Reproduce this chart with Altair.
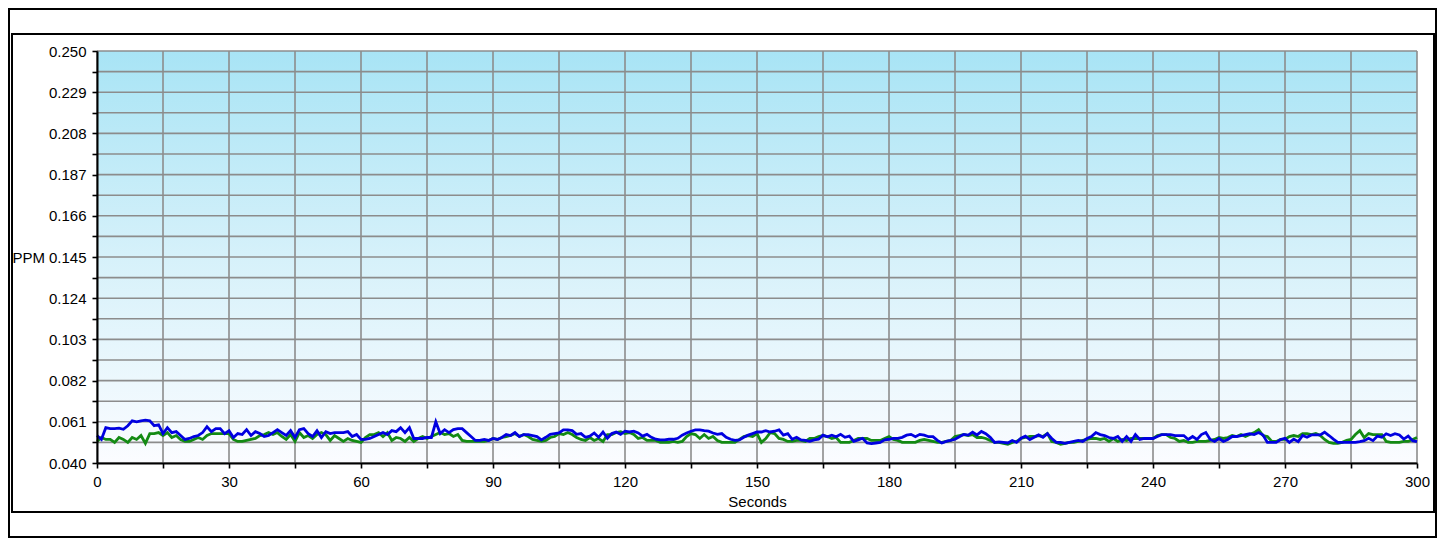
import altair as alt
import pandas as pd

seconds = list(range(301))

blue_ppm = [
    0.054, 0.052, 0.058, 0.0575, 0.0575, 0.0578, 0.0572, 0.059, 0.0615, 0.061,
    0.0615, 0.0618, 0.0615, 0.059, 0.0595, 0.055, 0.058, 0.0555, 0.056, 0.054,
    0.052, 0.0525, 0.0535, 0.054, 0.0555, 0.0585, 0.056, 0.0575, 0.0575, 0.055,
    0.0565, 0.053, 0.055, 0.0545, 0.057, 0.054, 0.056, 0.055, 0.0535, 0.054,
    0.0555, 0.057, 0.0555, 0.054, 0.0565, 0.053, 0.057, 0.0575, 0.055, 0.0535,
    0.0565, 0.053, 0.056, 0.055, 0.0555, 0.0555, 0.0555, 0.056, 0.0535, 0.0545,
    0.052, 0.052, 0.0525, 0.0535, 0.0545, 0.0555, 0.0545, 0.0565, 0.056, 0.058,
    0.0555, 0.058, 0.0525, 0.0525, 0.0525, 0.053, 0.053, 0.061, 0.055, 0.057,
    0.0555, 0.057, 0.0575, 0.0575, 0.0555, 0.0535, 0.0515, 0.0515, 0.052, 0.0515,
    0.0525, 0.052, 0.053, 0.0545, 0.054, 0.0555, 0.0535, 0.0545, 0.0545, 0.054,
    0.0535, 0.0518, 0.0531, 0.0546, 0.055, 0.0553, 0.0569, 0.0569, 0.0565, 0.0546,
    0.055, 0.0531, 0.0537, 0.0553, 0.0531, 0.0558, 0.0526, 0.055, 0.0558, 0.0546,
    0.0562, 0.0558, 0.0562, 0.0553, 0.0537, 0.0546, 0.0531, 0.0521, 0.0518, 0.0518,
    0.0521, 0.0521, 0.0526, 0.0542, 0.0553, 0.0562, 0.0569, 0.0569, 0.0565, 0.0562,
    0.0553, 0.0546, 0.055, 0.0531, 0.0521, 0.0515, 0.0518, 0.0531, 0.0542, 0.055,
    0.0558, 0.0558, 0.0565, 0.0558, 0.0562, 0.0569, 0.0542, 0.055, 0.0521, 0.0531,
    0.0518, 0.0515, 0.051, 0.0518, 0.0521, 0.0542, 0.0534, 0.0542, 0.0534, 0.0546,
    0.0531, 0.0537, 0.051, 0.0518, 0.0526, 0.0502, 0.0499, 0.0502, 0.0505, 0.0518,
    0.0521, 0.0526, 0.0526, 0.0531, 0.0542, 0.0546, 0.0534, 0.0546, 0.0542, 0.0534,
    0.0534, 0.0515, 0.0502, 0.051, 0.0515, 0.0521, 0.0534, 0.0546, 0.0542, 0.0557,
    0.0543, 0.0561, 0.0549, 0.0531, 0.0505, 0.0508, 0.0505, 0.0502, 0.0514, 0.0505,
    0.0526, 0.0537, 0.0519, 0.0531, 0.0543, 0.0531, 0.0549, 0.0525, 0.0505, 0.0505,
    0.050, 0.0505, 0.051, 0.0515, 0.051, 0.0525, 0.0535, 0.0555, 0.0545, 0.054,
    0.053, 0.0525, 0.0535, 0.051, 0.0535, 0.051, 0.0545, 0.052, 0.0525, 0.0525,
    0.0525, 0.0535, 0.0545, 0.0545, 0.0545, 0.054, 0.054, 0.054, 0.052, 0.0535,
    0.052, 0.0545, 0.0555, 0.052, 0.051, 0.0525, 0.051, 0.052, 0.0535, 0.0535,
    0.054, 0.0545, 0.0549, 0.0545, 0.0555, 0.0543, 0.0505, 0.0505, 0.0505, 0.0519,
    0.0526, 0.0505, 0.0522, 0.0509, 0.054, 0.0531, 0.0543, 0.0543, 0.0543, 0.0557,
    0.054, 0.0522, 0.0505, 0.0505, 0.0505, 0.0505, 0.0505, 0.0509, 0.0514, 0.0526,
    0.0514, 0.0537, 0.0531, 0.0549, 0.054, 0.0549, 0.0543, 0.0522, 0.0537, 0.0514,
    0.0509,
]

green_ppm = [
    0.051, 0.053, 0.052, 0.052, 0.0505, 0.053, 0.052, 0.0505, 0.053, 0.052,
    0.054, 0.050, 0.055, 0.055, 0.0555, 0.054, 0.0555, 0.053, 0.054, 0.052,
    0.051, 0.051, 0.052, 0.053, 0.052, 0.054, 0.055, 0.055, 0.055, 0.055,
    0.055, 0.052, 0.051, 0.051, 0.0515, 0.052, 0.0525, 0.054, 0.0545, 0.0555,
    0.0545, 0.0555, 0.0535, 0.052, 0.0545, 0.051, 0.0555, 0.053, 0.054, 0.0525,
    0.0545, 0.0555, 0.0545, 0.0515, 0.054, 0.0525, 0.051, 0.0525, 0.0515, 0.051,
    0.0505, 0.053, 0.0545, 0.0545, 0.0555, 0.0535, 0.0555, 0.0515, 0.053, 0.0525,
    0.051, 0.053, 0.051, 0.0525, 0.0535, 0.0525, 0.0535, 0.0545, 0.0555, 0.0545,
    0.055, 0.0535, 0.0545, 0.0515, 0.051, 0.051, 0.051, 0.051, 0.051, 0.0515,
    0.0525, 0.052, 0.053, 0.0535, 0.054, 0.055, 0.0535, 0.0545, 0.0535, 0.052,
    0.0515, 0.051, 0.0515, 0.053, 0.0535, 0.055, 0.0545, 0.0555, 0.0545, 0.053,
    0.052, 0.0515, 0.053, 0.0515, 0.0525, 0.051, 0.0545, 0.0545, 0.0555, 0.056,
    0.055, 0.0555, 0.0545, 0.0525, 0.053, 0.0515, 0.0515, 0.0515, 0.0505, 0.0505,
    0.0505, 0.051, 0.0505, 0.051, 0.0535, 0.055, 0.0545, 0.0525, 0.0545, 0.0525,
    0.0535, 0.0515, 0.0505, 0.0505, 0.0505, 0.0505, 0.052, 0.0535, 0.054, 0.0535,
    0.055, 0.0505, 0.0525, 0.0555, 0.055, 0.0525, 0.052, 0.051, 0.051, 0.0515,
    0.0515, 0.051, 0.0525, 0.0525, 0.0535, 0.054, 0.0535, 0.0525, 0.053, 0.0505,
    0.0505, 0.0505, 0.0515, 0.0525, 0.0525, 0.0525, 0.0515, 0.0515, 0.0515, 0.0525,
    0.0535, 0.052, 0.0515, 0.0505, 0.0505, 0.0505, 0.0505, 0.0515, 0.052, 0.0515,
    0.051, 0.0505, 0.0505, 0.051, 0.0515, 0.0535, 0.054, 0.0545, 0.054, 0.0545,
    0.053, 0.053, 0.0525, 0.0515, 0.0505, 0.0505, 0.050, 0.0495, 0.0505, 0.051,
    0.0525, 0.053, 0.0535, 0.0535, 0.054, 0.0535, 0.055, 0.051, 0.0505, 0.0495,
    0.050, 0.0505, 0.0505, 0.051, 0.0515, 0.052, 0.0525, 0.0525, 0.052, 0.0525,
    0.051, 0.0525, 0.051, 0.052, 0.0515, 0.0525, 0.0525, 0.0525, 0.0525, 0.0525,
    0.0525, 0.054, 0.0545, 0.0545, 0.053, 0.0525, 0.051, 0.0515, 0.0505, 0.0505,
    0.051, 0.051, 0.051, 0.0515, 0.052, 0.053, 0.0525, 0.053, 0.054, 0.0535,
    0.0545, 0.0535, 0.0545, 0.0555, 0.057, 0.054, 0.0535, 0.051, 0.051, 0.052,
    0.052, 0.0535, 0.054, 0.0535, 0.055, 0.055, 0.0545, 0.055, 0.054, 0.052,
    0.0505, 0.050, 0.050, 0.0505, 0.0515, 0.052, 0.0545, 0.0565, 0.053, 0.055,
    0.0545, 0.0545, 0.0545, 0.051, 0.0505, 0.0505, 0.0505, 0.051, 0.051, 0.052,
    0.053,
]

x_ticks = list(range(0, 301, 15))
x_labels = list(range(0, 301, 30))
y_ticks = [0.040, 0.0505, 0.061, 0.0715, 0.082, 0.0925, 0.103, 0.1135, 0.124,
           0.1345, 0.145, 0.1555, 0.166, 0.1765, 0.187, 0.1975, 0.208, 0.2185,
           0.229, 0.2395, 0.250]
y_labels = [0.040, 0.061, 0.082, 0.103, 0.124, 0.145, 0.166, 0.187, 0.208,
            0.229, 0.250]

FONT = "Liberation Sans"
W, H = 1320, 412

lines_df = pd.DataFrame({"s": seconds, "blue": blue_ppm, "green": green_ppm})
green_df = lines_df[["s", "green"]].rename(columns={"green": "ppm"})
blue_df = lines_df[["s", "blue"]].rename(columns={"blue": "ppm"})

x_label_expr = "indexof(" + str(x_labels) + ", datum.value) >= 0 ? datum.label : ''"
y_label_expr = ("indexof(" + str(y_labels) + ", datum.value) >= 0 ? "
                "format(datum.value, '.3f') : ''")

x_scale = alt.Scale(domain=[0, 300], nice=False, zero=False)
y_scale = alt.Scale(domain=[0.040, 0.250], nice=False, zero=False)

x_axis = alt.Axis(values=x_ticks, labelExpr=x_label_expr, grid=False,
                  title="Seconds", titleY=38, titleBaseline="middle",
                  labelPadding=6, labelFlush=False, labelOverlap=False, zindex=1)
y_axis = alt.Axis(values=y_ticks, labelExpr=y_label_expr, grid=False,
                  title="PPM", titleAngle=0, titleAlign="left",
                  titleBaseline="middle", titleX=-85, titleY=206,
                  labelPadding=6, labelFlush=False, labelOverlap=False, zindex=1)

x_enc = alt.X("s:Q", scale=x_scale, axis=x_axis)
y_enc = alt.Y("ppm:Q", scale=y_scale, axis=y_axis)

bg_df = pd.DataFrame({"s": [0], "s2": [300], "ppm": [0.040], "ppm2": [0.250]})
background = alt.Chart(bg_df).mark_rect(
    fill=alt.Gradient(
        gradient="linear",
        stops=[alt.GradientStop(color="#a8e4f5", offset=0),
               alt.GradientStop(color="#d6f1fa", offset=0.5),
               alt.GradientStop(color="#fbfcff", offset=1)],
        x1=0, x2=0, y1=0, y2=1,
    )
).encode(x=x_enc, x2="s2:Q", y=y_enc, y2="ppm2:Q")

vgrid = alt.Chart(pd.DataFrame({"s": x_ticks})).mark_rule(
    color="#8c8c8c", strokeWidth=1.6
).encode(x=x_enc)

hgrid = alt.Chart(pd.DataFrame({"ppm": y_ticks})).mark_rule(
    color="#8c8c8c", strokeWidth=1.6
).encode(y=y_enc)

green_line = alt.Chart(green_df).mark_line(
    color="#138a13", strokeWidth=2.8
).encode(x=x_enc, y=y_enc)

blue_line = alt.Chart(blue_df).mark_line(
    color="#0000e0", strokeWidth=2.8
).encode(x=x_enc, y=y_enc)

one = pd.DataFrame({"k": [0]})
outer_frame = alt.Chart(one).mark_rect(
    filled=False, stroke="black", strokeWidth=2
).encode(x=alt.value(-88), x2=alt.value(1339), y=alt.value(-42), y2=alt.value(486))

inner_frame = alt.Chart(one).mark_rect(
    filled=False, stroke="black", strokeWidth=2
).encode(x=alt.value(-85), x2=alt.value(1337), y=alt.value(-17), y2=alt.value(461))

chart = alt.layer(
    background, vgrid, hgrid, green_line, blue_line, outer_frame, inner_frame
).properties(
    width=W, height=H,
    autosize=alt.AutoSizeParams(type="none"),
    padding={"left": 89, "top": 43, "right": 20, "bottom": 75},
    background="white",
).configure_axis(
    domainColor="black", domainWidth=2,
    tickColor="black", tickWidth=1.6, tickSize=5,
    labelFont=FONT, labelFontSize=15, labelColor="black",
    titleFont=FONT, titleFontSize=15, titleColor="black", titleFontWeight="normal",
).configure_view(stroke=None)

chart.save("out.html", embed_options={"renderer": "svg", "actions": False})
